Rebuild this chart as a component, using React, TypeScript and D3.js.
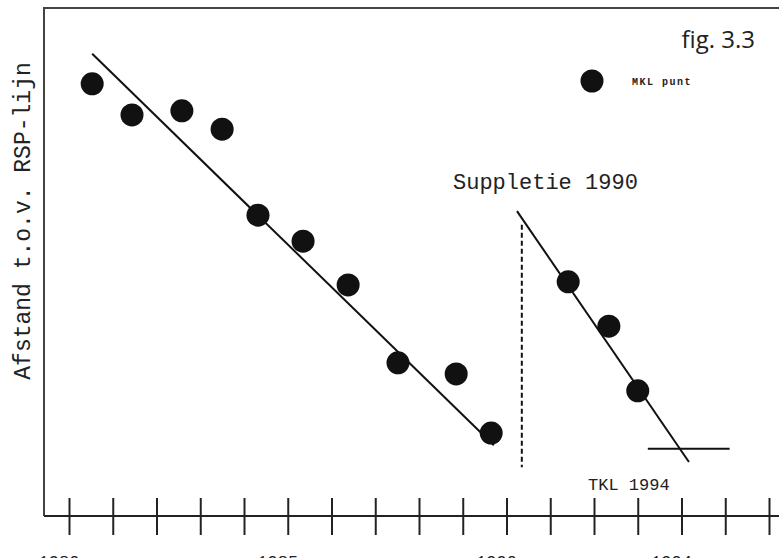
import React, { useEffect, useRef } from 'react';
import * as d3 from 'd3';

// MKL points before the 1990 nourishment (year, distance)
const yearsBefore = [1980.53, 1981.44, 1982.58, 1983.5, 1984.32, 1985.35, 1986.38, 1987.52, 1988.85, 1989.65];
const mklBefore = [84.9, 78.8, 79.6, 76.0, 59.1, 54.0, 45.4, 30.1, 27.9, 16.3];

// MKL points after the nourishment
const yearsAfter = [1991.41, 1992.34, 1993.0];
const mklAfter = [46.0, 37.3, 24.6];

// hand drawn trend lines, start and end
const trendBeforeYears = [1980.53, 1989.71];
const trendBeforeValues = [90.8, 13.9];
const trendAfterYears = [1990.24, 1994.17];
const trendAfterValues = [59.9, 10.6];

// suppletie marker and TKL 1994 level
const suppletieYear = 1990.35;
const suppletieRange = [57.2, 9.6];
const tklYears = [1993.23, 1995.1];
const tklValue = 13.2;

const tickYears = d3.range(1980, 1997);
const labelYears = [1980, 1985, 1990, 1994];

const W = 779;
const H = 558;
const mono = '"Liberation Mono", "DejaVu Sans Mono", monospace';

const App = () => {
    const ref = useRef<SVGSVGElement>(null);

    useEffect(() => {
        const svg = d3.select(ref.current);
        svg.selectAll('*').remove();

        const x = d3.scaleLinear().domain([1980, 1996]).range([69, 769]);
        const y = d3.scaleLinear().domain([0, 100]).range([516, 7]);

        // frame: left and top lines
        svg.append('line')
            .attr('x1', 44).attr('x2', 44)
            .attr('y1', 7).attr('y2', y(0))
            .attr('stroke', '#444').attr('stroke-width', 2);
        svg.append('line')
            .attr('x1', 44).attr('x2', W)
            .attr('y1', 8).attr('y2', 8)
            .attr('stroke', '#444').attr('stroke-width', 2);

        // x axis with ticks crossing the line
        const axis = svg.append('g')
            .attr('transform', `translate(0, ${y(0)})`)
            .call(d3.axisBottom(x).tickValues(tickYears).tickSize(0).tickFormat(() => ''));
        axis.select('.domain').remove();
        axis.selectAll('.tick line')
            .attr('y1', -18).attr('y2', 19)
            .attr('stroke', '#222').attr('stroke-width', 2);
        axis.append('line')
            .attr('x1', 44).attr('x2', W)
            .attr('stroke', '#222').attr('stroke-width', 2);

        svg.append('g')
            .selectAll('text')
            .data(labelYears)
            .enter()
            .append('text')
            .attr('x', (d) => x(d) - 10)
            .attr('y', 567)
            .attr('text-anchor', 'middle')
            .attr('font-family', mono)
            .attr('font-size', 17)
            .attr('fill', '#222')
            .text((d) => d);

        // trend lines
        const line = d3.line<[number, number]>().x((d) => x(d[0])).y((d) => y(d[1]));
        [
            [trendBeforeYears, trendBeforeValues],
            [trendAfterYears, trendAfterValues],
        ].forEach(([ys, vs]) => {
            svg.append('path')
                .datum(ys.map((yr, i) => [yr, vs[i]] as [number, number]))
                .attr('d', line)
                .attr('fill', 'none')
                .attr('stroke', '#111')
                .attr('stroke-width', 2);
        });

        // suppletie dashed line
        svg.append('line')
            .attr('x1', x(suppletieYear)).attr('x2', x(suppletieYear))
            .attr('y1', y(suppletieRange[0])).attr('y2', y(suppletieRange[1]))
            .attr('stroke', '#111').attr('stroke-width', 2)
            .attr('stroke-dasharray', '5,3');

        // TKL 1994
        svg.append('line')
            .attr('x1', x(tklYears[0])).attr('x2', x(tklYears[1]))
            .attr('y1', y(tklValue)).attr('y2', y(tklValue))
            .attr('stroke', '#111').attr('stroke-width', 2);

        // points
        const pts = [
            ...yearsBefore.map((yr, i) => [yr, mklBefore[i]]),
            ...yearsAfter.map((yr, i) => [yr, mklAfter[i]]),
        ];
        svg.append('g')
            .selectAll('circle')
            .data(pts)
            .enter()
            .append('circle')
            .attr('cx', (d) => x(d[0]))
            .attr('cy', (d) => y(d[1]))
            .attr('r', 11.5)
            .attr('fill', '#111');

        // texts
        svg.append('text')
            .attr('transform', 'translate(30, 221) rotate(-90)')
            .attr('text-anchor', 'middle')
            .attr('font-family', mono)
            .attr('font-size', 23)
            .attr('fill', '#222')
            .text('Afstand t.o.v. RSP-lijn');

        svg.append('text')
            .attr('x', 453).attr('y', 189)
            .attr('font-family', mono)
            .attr('font-size', 22)
            .attr('fill', '#222')
            .text('Suppletie 1990');

        svg.append('text')
            .attr('x', 588).attr('y', 490)
            .attr('font-family', mono)
            .attr('font-size', 17)
            .attr('fill', '#222')
            .text('TKL 1994');

        svg.append('text')
            .attr('x', 755).attr('y', 48)
            .attr('text-anchor', 'end')
            .attr('font-family', '"Open Sans", sans-serif')
            .attr('font-size', 24)
            .attr('fill', '#222')
            .text('fig. 3.3');

        // legend
        svg.append('circle')
            .attr('cx', 592).attr('cy', 81)
            .attr('r', 11.5)
            .attr('fill', '#111');
        svg.append('text')
            .attr('x', 632).attr('y', 85)
            .attr('font-family', mono)
            .attr('font-size', 10)
            .attr('font-weight', 'bold')
            .attr('letter-spacing', 1.5)
            .attr('fill', '#222')
            .text('MKL punt');
    }, []);

    return (
        <svg ref={ref} width={W} height={H}
             style={{ position: 'absolute', left: 0, top: 0, background: '#fff' }} />
    );
};

export default App;
